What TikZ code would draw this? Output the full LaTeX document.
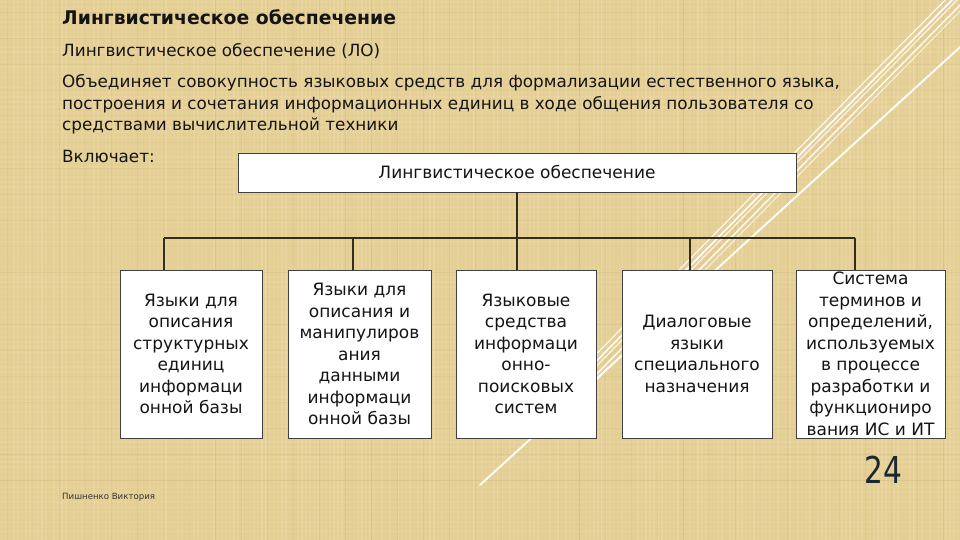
\documentclass[tikz,border=0pt]{standalone}
\usepackage{fontspec}
\setmainfont{DejaVu Sans}
\usepackage{graphicx}
\definecolor{bg}{RGB}{228,206,148}
\definecolor{bglight}{RGB}{244,230,188}
\definecolor{bgdark}{RGB}{198,172,110}
\definecolor{ink}{RGB}{20,20,20}
\definecolor{wire}{RGB}{52,44,30}
\definecolor{peach}{RGB}{236,186,140}
\definecolor{numcol}{RGB}{27,40,50}
\begin{document}
\begin{tikzpicture}[x=1pt,y=-1pt,
  bodytext/.style={anchor=base west, text=ink, inner sep=0pt, font=\fontsize{16.8}{21.5}\selectfont},
  titletext/.style={anchor=base west, text=ink, inner sep=0pt, font=\fontsize{18.8}{21}\selectfont\bfseries},
  box/.style={draw=black!75, line width=0.9pt, fill=white, align=center, text=ink,
    inner sep=0pt, font=\fontsize{17}{21.5}\selectfont},
  conn/.style={draw=wire, line width=1.6pt},
  deco/.style={draw=white, line cap=round}
]
\useasboundingbox (0,0) rectangle (960,540);
\begin{scope}
\clip (0,0) rectangle (960,540);
% background
\fill[bg] (0,0) rectangle (960,540);
\pgfmathsetseed{42}
\foreach \i in {0,...,239} {
  \pgfmathsetmacro\op{0.05+0.25*rnd}
  \pgfmathsetmacro\xx{\i*4+2}
  \draw[bglight, line width=1.6pt, opacity=\op] (\xx,0) -- (\xx,540);
}
\foreach \i in {0,...,36} {
  \pgfmathsetmacro\op{0.10+0.25*rnd}
  \pgfmathsetmacro\xx{\i*26+7}
  \draw[bgdark, line width=1pt, opacity=\op] (\xx,0) -- (\xx,540);
}
\foreach \i in {0,...,107} {
  \pgfmathsetmacro\op{0.04+0.16*rnd}
  \pgfmathsetmacro\yy{\i*5+2}
  \draw[bglight, line width=1.5pt, opacity=\op] (0,\yy) -- (960,\yy);
}
\foreach \i in {0,...,20} {
  \pgfmathsetmacro\op{0.08+0.2*rnd}
  \pgfmathsetmacro\yy{\i*26+12}
  \draw[bgdark, line width=0.8pt, opacity=\op] (0,\yy) -- (960,\yy);
}
% decorative diagonal lines
\draw[deco, line width=2pt, opacity=0.9] (970,38) -- (480,485);
\draw[deco, line width=1.6pt, opacity=0.95] (960,-8) -- (560,398);
\draw[deco, line width=1pt, opacity=0.85] (965,-8) -- (565,398);
\draw[peach, line width=1pt, dashed, opacity=0.7] (969,-8) -- (569,398);
\draw[deco, line width=1.4pt, opacity=0.9] (973,-8) -- (573,398);
\draw[deco, line width=0.8pt, opacity=0.8] (979,-8) -- (579,398);
\draw[deco, line width=1.2pt, opacity=0.85] (953,-8) -- (553,398);
\end{scope}

% texts
\node[titletext] (title) at (62,25) {Лингвистическое обеспечение};
\node[bodytext] (lo) at (62,57) {Лингвистическое обеспечение (ЛО)};
\node[bodytext] (para1) at (62,88) {Объединяет совокупность языковых средств для формализации естественного языка,};
\node[bodytext] (para2) at (62,109.5) {построения и сочетания информационных единиц в ходе общения пользователя со};
\node[bodytext] (para3) at (62,131) {средствами вычислительной техники};
\node[bodytext] (incl) at (62,163) {Включает:};

% boxes
\node[box, minimum width=558pt, minimum height=39pt, font=\fontsize{17}{20}\selectfont] (top) at (517,172.5) {Лингвистическое обеспечение};
\node[box, minimum width=142pt, minimum height=168pt] (b1) at (191,354) {Языки для\\описания\\структурных\\единиц\\информаци\\онной базы};
\node[box, minimum width=143pt, minimum height=168pt] (b2) at (359.5,354) {Языки для\\описания и\\манипулиров\\ания\\данными\\информаци\\онной базы};
\node[box, minimum width=140pt, minimum height=168pt] (b3) at (526,354) {Языковые\\средства\\информаци\\онно-\\поисковых\\систем};
\node[box, minimum width=150pt, minimum height=168pt] (b4) at (697,354) {Диалоговые\\языки\\специального\\назначения};
\node[box, minimum width=149pt, minimum height=168pt] (b5) at (870.5,354) {Система\\терминов и\\определений,\\используемых\\в процессе\\разработки и\\функциониро\\вания ИС и ИТ};

% connectors
\coordinate (j1) at (164,238);
\coordinate (j2) at (353,238);
\coordinate (j3) at (517,238);
\coordinate (j4) at (690,238);
\coordinate (j5) at (855,238);
\draw[conn] (top.south) -- (j3);
\draw[conn] (j1) -- (j5);
\draw[conn] (j1) -- (j1 |- b1.north);
\draw[conn] (j2) -- (j2 |- b2.north);
\draw[conn] (j3) -- (j3 |- b3.north);
\draw[conn] (j4) -- (j4 |- b4.north);
\draw[conn] (j5) -- (j5 |- b5.north);

% footer
\node[anchor=base west, inner sep=0pt, text=black!80, font=\fontsize{8.6}{9}\selectfont] (author) at (62,499) {Пишненко Виктория};
\node[anchor=base west, inner sep=0pt, text=numcol] (num) at (864,483) {\scalebox{0.8}[1]{\fontsize{37}{37}\selectfont 24}};
\end{tikzpicture}
\end{document}
